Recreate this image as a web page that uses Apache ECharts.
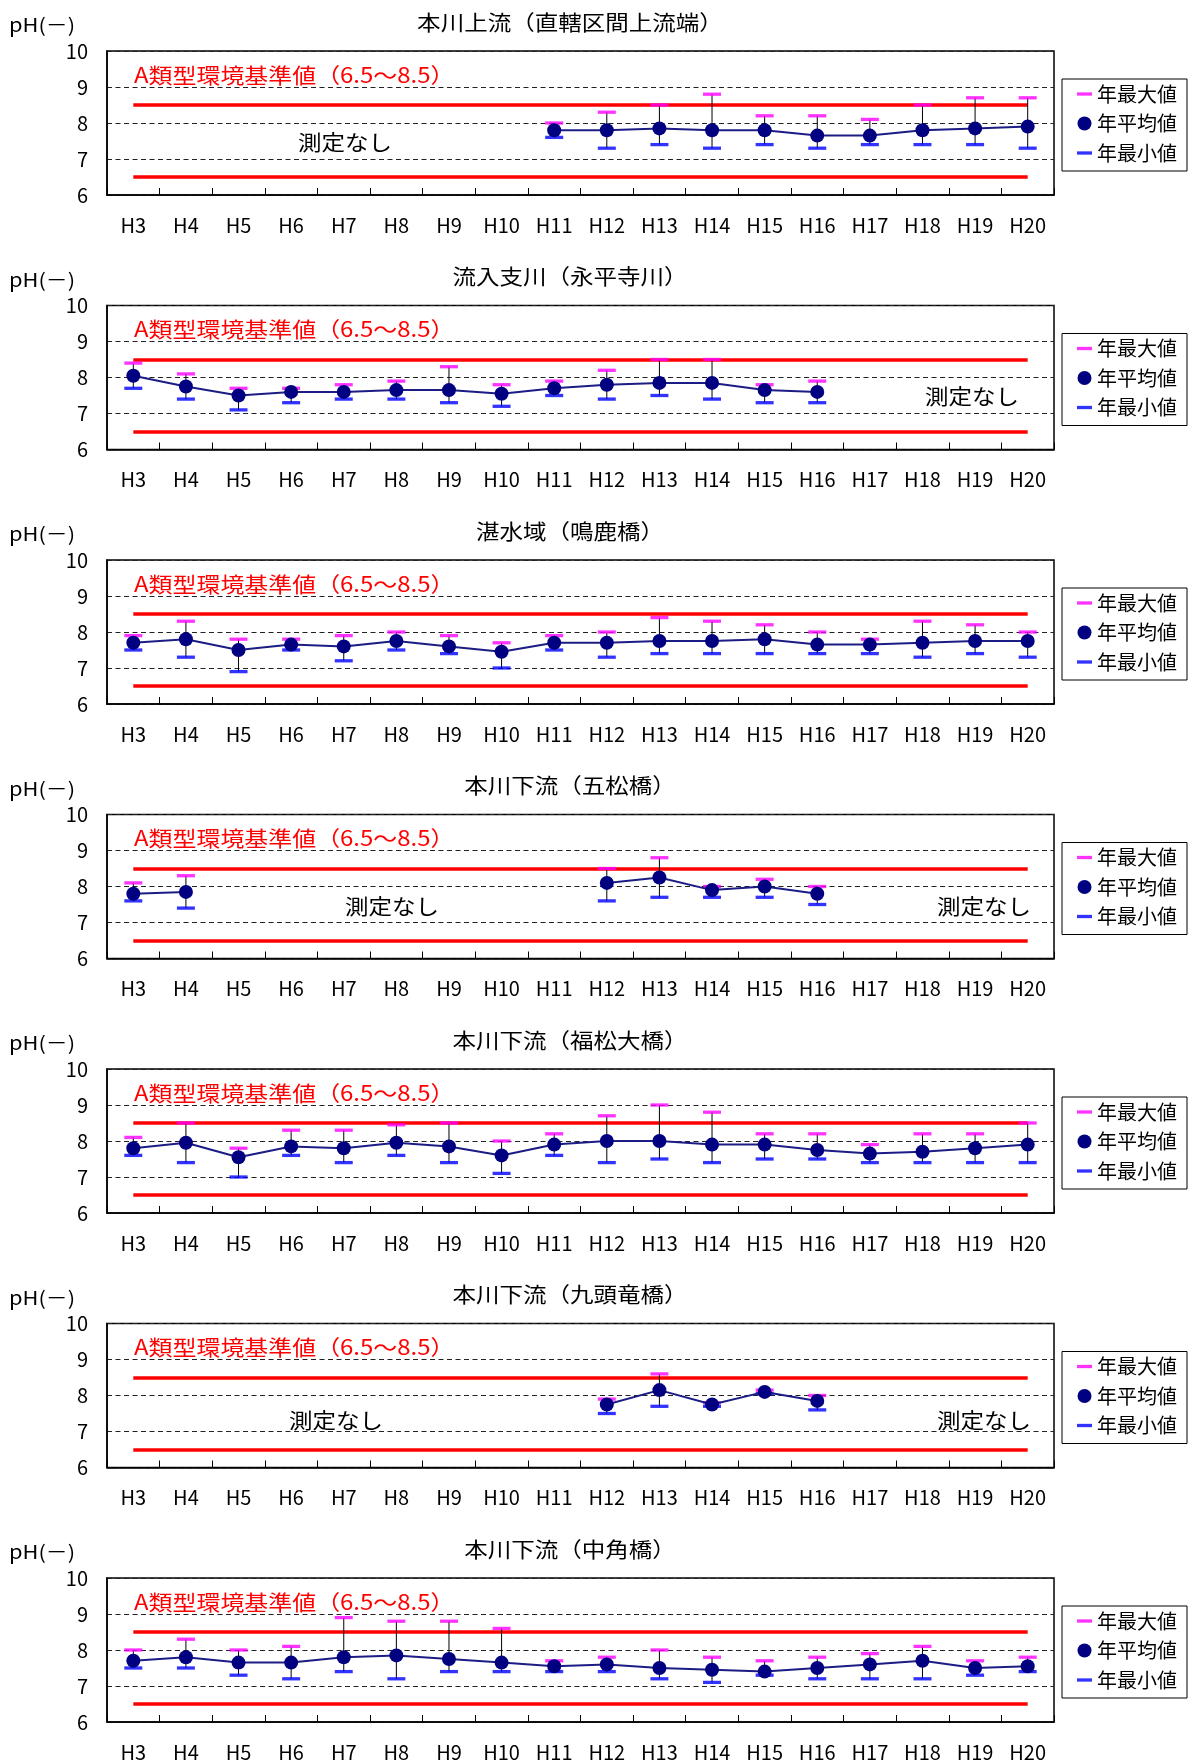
<!DOCTYPE html>
<html>
<head>
<meta charset="utf-8">
<script src="https://cdn.jsdelivr.net/npm/echarts@6/dist/echarts.min.js"></script>
<style>
html,body{margin:0;padding:0;background:#fff;}
#chart{width:1190px;height:1764px;}
</style>
</head>
<body>
<div id="chart"></div>
<script>
// ---------- DATA ----------
const categories = ['H3','H4','H5','H6','H7','H8','H9','H10','H11','H12','H13','H14','H15','H16','H17','H18','H19','H20'];
const titles = ['本川上流（直轄区間上流端）','流入支川（永平寺川）','湛水域（鳴鹿橋）','本川下流（五松橋）','本川下流（福松大橋）','本川下流（九頭竜橋）','本川下流（中角橋）'];
const yTicks = [6, 7, 8, 9, 10];
const stdLower = 6.5;
const stdUpper = 8.5;
const stdLabel = 'A類型環境基準値（6.5～8.5）';
const noDataLabel = '測定なし';
const yAxisName = 'pH(－)';
const legendNames = ['年最大値','年平均値','年最小値'];

const p1Max  = [null,null,null,null,null,null,null,null, 8.0, 8.3, 8.5, 8.8, 8.2, 8.2, 8.1, 8.5, 8.7, 8.7];
const p1Mean = [null,null,null,null,null,null,null,null, 7.8, 7.8, 7.85,7.8, 7.8, 7.65,7.65,7.8, 7.85,7.9];
const p1Min  = [null,null,null,null,null,null,null,null, 7.6, 7.3, 7.4, 7.3, 7.4, 7.3, 7.4, 7.4, 7.4, 7.3];

const p2Max  = [8.4, 8.1, 7.7, 7.7, 7.8, 7.9, 8.3, 7.8, 7.9, 8.2, 8.5, 8.5, 7.8, 7.9, null,null,null,null];
const p2Mean = [8.05,7.75,7.5, 7.6, 7.6, 7.65,7.65,7.55,7.7, 7.8, 7.85,7.85,7.65,7.6, null,null,null,null];
const p2Min  = [7.7, 7.4, 7.1, 7.3, 7.4, 7.4, 7.3, 7.2, 7.5, 7.4, 7.5, 7.4, 7.3, 7.3, null,null,null,null];

const p3Max  = [7.9, 8.3, 7.8, 7.8, 7.9, 8.0, 7.9, 7.7, 7.9, 8.0, 8.4, 8.3, 8.2, 8.0, 7.8, 8.3, 8.2, 8.0];
const p3Mean = [7.7, 7.8, 7.5, 7.65,7.6, 7.75,7.6, 7.45,7.7, 7.7, 7.75,7.75,7.8, 7.65,7.65,7.7, 7.75,7.75];
const p3Min  = [7.5, 7.3, 6.9, 7.5, 7.2, 7.5, 7.4, 7.0, 7.5, 7.3, 7.4, 7.4, 7.4, 7.4, 7.4, 7.3, 7.4, 7.3];

const p4Max  = [8.1, 8.3, null,null,null,null,null,null,null, 8.5, 8.8, 8.0, 8.2, 8.0, null,null,null,null];
const p4Mean = [7.8, 7.85,null,null,null,null,null,null,null, 8.1, 8.25,7.9, 8.0, 7.8, null,null,null,null];
const p4Min  = [7.6, 7.4, null,null,null,null,null,null,null, 7.6, 7.7, 7.7, 7.7, 7.5, null,null,null,null];

const p5Max  = [8.1, 8.5, 7.8, 8.3, 8.3, 8.45,8.5, 8.0, 8.2, 8.7, 9.0, 8.8, 8.2, 8.2, 7.9, 8.2, 8.2, 8.5];
const p5Mean = [7.8, 7.95,7.55,7.85,7.8, 7.95,7.85,7.6, 7.9, 8.0, 8.0, 7.9, 7.9, 7.75,7.65,7.7, 7.8, 7.9];
const p5Min  = [7.6, 7.4, 7.0, 7.6, 7.4, 7.6, 7.4, 7.1, 7.6, 7.4, 7.5, 7.4, 7.5, 7.5, 7.4, 7.4, 7.4, 7.4];

const p6Max  = [null,null,null,null,null,null,null,null,null, 7.9, 8.6, 7.8, 8.15,8.0, null,null,null,null];
const p6Mean = [null,null,null,null,null,null,null,null,null, 7.75,8.15,7.75,8.1, 7.85,null,null,null,null];
const p6Min  = [null,null,null,null,null,null,null,null,null, 7.5, 7.7, 7.7, 8.05,7.6, null,null,null,null];

const p7Max  = [8.0, 8.3, 8.0, 8.1, 8.9, 8.8, 8.8, 8.6, 7.7, 7.8, 8.0, 7.8, 7.7, 7.8, 7.9, 8.1, 7.7, 7.8];
const p7Mean = [7.7, 7.8, 7.65,7.65,7.8, 7.85,7.75,7.65,7.55,7.6, 7.5, 7.45,7.4, 7.5, 7.6, 7.7, 7.5, 7.55];
const p7Min  = [7.5, 7.5, 7.3, 7.2, 7.4, 7.2, 7.4, 7.4, 7.4, 7.4, 7.2, 7.1, 7.3, 7.2, 7.2, 7.2, 7.3, 7.4];

// ---------- LAYOUT ----------
const FONT = "'Noto Sans CJK JP', 'Noto Sans', sans-serif";
const panels = [
  {max: p1Max, mean: p1Mean, min: p1Min, noData: [[345, 91]]},
  {max: p2Max, mean: p2Mean, min: p2Min, noData: [[972, 91]]},
  {max: p3Max, mean: p3Mean, min: p3Min, noData: []},
  {max: p4Max, mean: p4Mean, min: p4Min, noData: [[392, 92], [984, 92]]},
  {max: p5Max, mean: p5Mean, min: p5Min, noData: []},
  {max: p6Max, mean: p6Mean, min: p6Min, noData: [[336, 97], [984, 97]]},
  {max: p7Max, mean: p7Mean, min: p7Min, noData: []}
];
const GRID_LEFT = 107, GRID_W = 947, GRID_H = 144, FIRST_TOP = 51, STEP = 254.5;
const dashIcon = 'path://M0,0H15V3.3H0Z';

const option = {
  animation: false,
  backgroundColor: '#fff',
  textStyle: {fontFamily: FONT},
  grid: [], xAxis: [], yAxis: [], series: [], legend: [], graphic: []
};

function txt(text, x, y, size, color, align, sx) {
  return {type: 'text', x: x, y: y, z: 10, scaleX: sx, scaleY: 1, silent: true,
    style: {text: text, fill: color, font: size + 'px ' + FONT, align: align, verticalAlign: 'middle'}};
}

panels.forEach((p, i) => {
  const T = FIRST_TOP + STEP * i;
  option.grid.push({left: GRID_LEFT, top: T, width: GRID_W, height: GRID_H,
    show: true, borderColor: '#000', borderWidth: 1.5, backgroundColor: '#fff'});
  option.xAxis.push({
    type: 'category', gridIndex: i, data: categories, boundaryGap: true,
    axisLine: {lineStyle: {color: '#000', width: 1.5}},
    axisTick: {show: true, inside: true, length: 7, interval: 0, lineStyle: {color: '#000', width: 1}},
    axisLabel: {color: '#000', fontSize: 20, margin: 20, interval: 0, fontFamily: FONT},
    splitLine: {show: false}
  });
  option.yAxis.push({
    type: 'value', gridIndex: i, min: yTicks[0], max: yTicks[yTicks.length - 1], interval: 1,
    axisLine: {show: true, lineStyle: {color: '#000', width: 1.5}},
    axisTick: {show: false},
    axisLabel: {color: '#000', fontSize: 20, margin: 19, fontFamily: FONT},
    splitLine: {show: true, lineStyle: {color: '#222', type: [5, 3.5], width: 1}}
  });

  const errData = [];
  categories.forEach((c, j) => {
    if (p.min[j] != null && p.max[j] != null) errData.push([j, p.min[j], p.max[j]]);
  });

  option.series.push({
    type: 'custom', name: 'range' + i, xAxisIndex: i, yAxisIndex: i, z: 2, silent: true,
    data: errData, encode: {x: 0, y: [1, 2]},
    renderItem: function (params, api) {
      const x = api.value(0);
      const a = api.coord([x, api.value(1)]);
      const b = api.coord([x, api.value(2)]);
      return {type: 'line', shape: {x1: a[0], y1: a[1], x2: b[0], y2: b[1]},
        style: {stroke: '#000', lineWidth: 1}};
    }
  });
  option.series.push({
    type: 'scatter', name: legendNames[0], xAxisIndex: i, yAxisIndex: i, z: 3,
    symbol: 'rect', symbolSize: [18, 3.3], itemStyle: {color: '#ff00ff'}, data: p.max
  });
  option.series.push({
    type: 'scatter', name: legendNames[2], xAxisIndex: i, yAxisIndex: i, z: 3,
    symbol: 'rect', symbolSize: [18, 3.3], itemStyle: {color: '#0000ff'}, data: p.min
  });
  option.series.push({
    type: 'line', name: legendNames[1], xAxisIndex: i, yAxisIndex: i, z: 4,
    symbol: 'circle', symbolSize: 14, connectNulls: false,
    itemStyle: {color: '#000080'}, lineStyle: {color: '#1c1c85', width: 2},
    data: p.mean,
    markLine: {
      silent: true, z: 1, symbol: 'none', label: {show: false},
      lineStyle: {color: '#ff0000', width: 3.5, type: 'solid'},
      emphasis: {disabled: true},
      data: [
        [{coord: [categories[0], stdUpper]}, {coord: [categories[categories.length - 1], stdUpper]}],
        [{coord: [categories[0], stdLower]}, {coord: [categories[categories.length - 1], stdLower]}]
      ]
    }
  });

  option.legend.push({
    orient: 'vertical', left: 1062, top: T + 28, padding: [5, 10, 8, 15],
    itemGap: 9.5, itemWidth: 15, itemHeight: 14, selectedMode: false,
    borderColor: '#000', borderWidth: 1, backgroundColor: '#fff',
    textStyle: {fontSize: 20, lineHeight: 20, color: '#000', fontFamily: FONT},
    data: [
      {name: legendNames[0], icon: dashIcon},
      {name: legendNames[1], icon: 'circle'},
      {name: legendNames[2], icon: dashIcon}
    ]
  });

  option.graphic.push(txt(titles[i], 570, T - 29, 21, '#000', 'center', 1.12));
  option.graphic.push(txt(yAxisName, 9, T - 26, 19, '#000', 'left', 1.15));
  option.graphic.push(txt(stdLabel, 134, T + 24, 21, '#ff0000', 'left', 1.14));
  p.noData.forEach(nd => {
    option.graphic.push(txt(noDataLabel, nd[0], T + nd[1], 21, '#000', 'center', 1.12));
  });
});

const chart = echarts.init(document.getElementById('chart'), null, {renderer: 'canvas'});
chart.setOption(option);
</script>
</body>
</html>
